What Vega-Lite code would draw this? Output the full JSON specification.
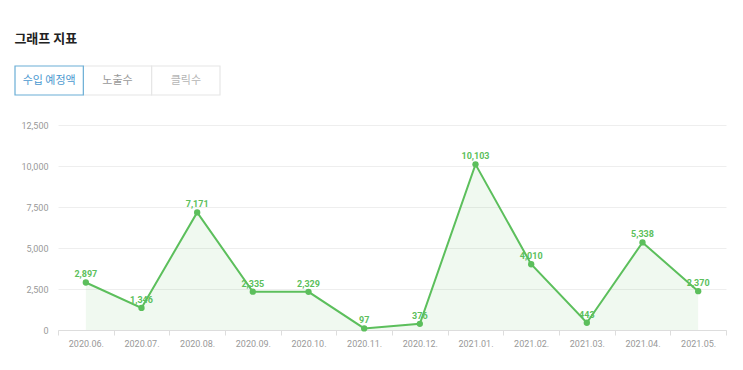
{
  "$schema": "https://vega.github.io/schema/vega-lite/v6.json",
  "padding": {"left": 14, "top": 33, "right": 18, "bottom": 4},
  "title": {"text": "그래프 지표", "anchor": "start", "fontSize": 13, "font": "Noto Sans CJK KR", "fontWeight": "bold", "color": "#222", "offset": 19},
  "config": {"view": {"stroke": null}, "font": "Roboto, Noto Sans CJK KR"},
  "columns": 1,
  "spacing": 25,
  "concat": [
    {
      "width": 205,
      "height": 29,
      "data": {"values": [
        {"tab": "노출수", "active": "no"},
        {"tab": "클릭수", "active": "off"},
        {"tab": "수입 예정액", "active": "yes"}
      ]},
      "encoding": {
        "x": {"field": "tab", "type": "nominal", "scale": {"type": "band", "domain": ["수입 예정액", "노출수", "클릭수"], "range": [-43, 162], "paddingInner": 0, "paddingOuter": 0}, "axis": null}
      },
      "layer": [
        {"mark": {"type": "rect", "fill": "white", "strokeWidth": 1.2},
         "encoding": {
           "y": {"value": 0}, "y2": {"value": 29},
           "stroke": {"field": "active", "type": "nominal", "scale": {"domain": ["yes", "no", "off"], "range": ["#6aaed6", "#e6e6e6", "#e6e6e6"]}, "legend": null}
         }},
        {"mark": {"type": "text", "fontSize": 11, "font": "Noto Sans CJK KR", "baseline": "middle"},
         "encoding": {
           "y": {"value": 14.5},
           "text": {"field": "tab"},
           "color": {"field": "active", "type": "nominal", "scale": {"domain": ["yes", "no", "off"], "range": ["#4a98cf", "#999999", "#b5b5b5"]}, "legend": null},
           "fontWeight": {"field": "active", "type": "nominal", "scale": {"domain": ["yes", "no", "off"], "range": ["bold", "normal", "normal"]}, "legend": null}
         }}
      ]
    },
    {
      "width": 668,
      "height": 205,
      "data": {"values": [
        {"month": "2020.06.", "value": 2897},
        {"month": "2020.07.", "value": 1346},
        {"month": "2020.08.", "value": 7171},
        {"month": "2020.09.", "value": 2335},
        {"month": "2020.10.", "value": 2329},
        {"month": "2020.11.", "value": 97},
        {"month": "2020.12.", "value": 376},
        {"month": "2021.01.", "value": 10103},
        {"month": "2021.02.", "value": 4010},
        {"month": "2021.03.", "value": 443},
        {"month": "2021.04.", "value": 5338},
        {"month": "2021.05.", "value": 2370}
      ]},
      "encoding": {
        "x": {"field": "month", "type": "ordinal", "scale": {"type": "band", "paddingInner": 0, "paddingOuter": 0},
              "axis": {"title": null, "labelAngle": 0, "tickBand": "extent", "domainColor": "#dddddd", "tickColor": "#dddddd", "tickSize": 5, "labelColor": "#999999", "labelFontSize": 9, "labelPadding": 4, "grid": false}},
        "y": {"field": "value", "type": "quantitative", "scale": {"domain": [0, 12500], "nice": false},
              "axis": {"title": null, "values": [0, 2500, 5000, 7500, 10000, 12500], "labelExpr": "format(datum.value, ',')", "domain": false, "ticks": false, "labelColor": "#999999", "labelFontSize": 9, "labelPadding": 10, "gridColor": "#eeeeee", "minExtent": 43}}
      },
      "layer": [
        {"mark": {"type": "area", "color": "#5cbf5c", "opacity": 0.09}},
        {"mark": {"type": "line", "color": "#5cbf5c", "strokeWidth": 2}},
        {"mark": {"type": "point", "filled": true, "color": "#5cbf5c", "size": 40, "opacity": 1}},
        {"mark": {"type": "text", "color": "#5cbf5c", "fontSize": 9, "fontWeight": "bold", "dy": -5, "baseline": "alphabetic"},
         "encoding": {"text": {"field": "value", "type": "quantitative", "format": ","}}}
      ]
    }
  ]
}
